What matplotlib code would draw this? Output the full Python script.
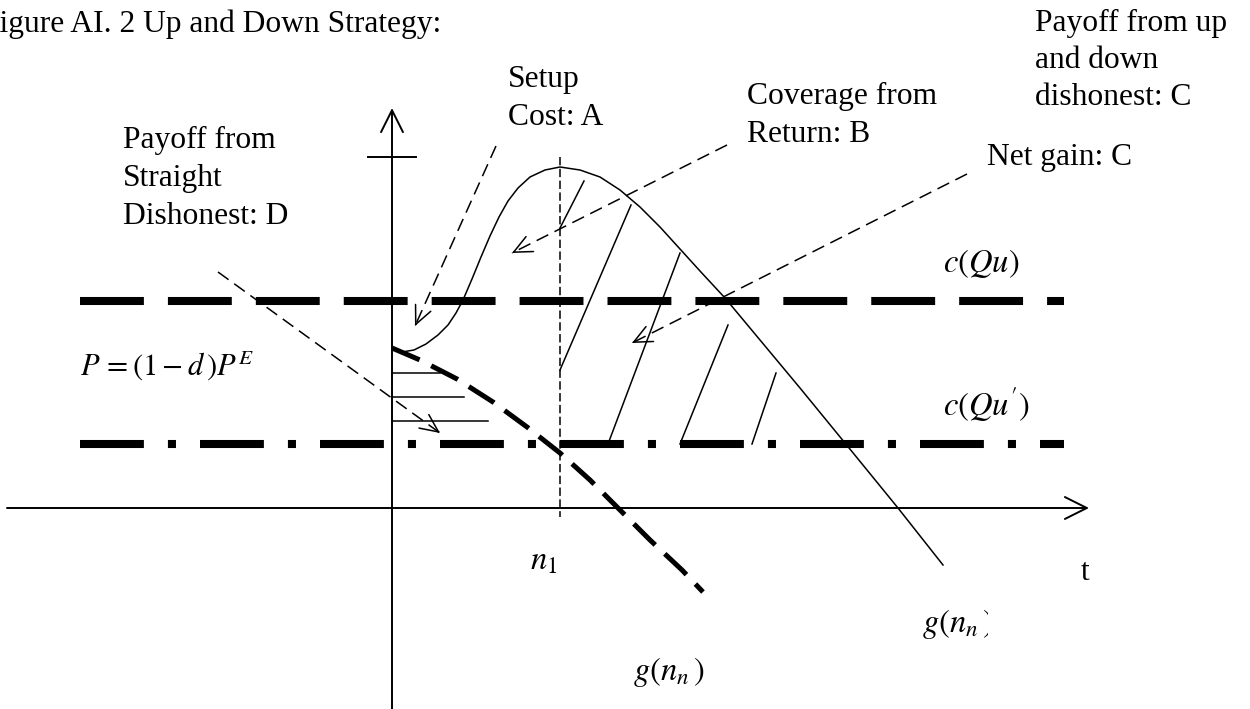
import matplotlib.pyplot as plt
import numpy as np
from matplotlib.transforms import Bbox, TransformedBbox

plt.rcParams["font.family"] = ["Liberation Serif", "DejaVu Serif"]
plt.rcParams["mathtext.fontset"] = "stix"
plt.rcParams["lines.scale_dashes"] = False

# diagram units: origin where the two axes cross, y up
up_down_x = [0, 10, 22, 34, 46, 56, 64, 71, 80, 89, 98, 107, 116, 126, 138, 153, 168,
             188, 208, 228, 248, 268, 288, 308, 333, 368, 408, 453, 506, 551]
up_down_y = [159, 156, 158, 164, 173, 183, 195, 208, 229, 251, 272, 291, 307, 320, 331,
             338, 341, 338, 331, 318, 301, 281, 259, 237, 210, 168, 120, 65, 0, -57]

straight_x = [0, 28, 65, 101, 135, 168, 198, 228, 258, 290, 311]
straight_y = [160, 148, 129, 106, 81, 55, 28, -2, -32, -62, -84]

cqu_y = 207        # c(Qu)
cqu2_y = 64        # c(Qu')
level_x = [-312, 672]
n1_x = 168
n1_top = 351

setup_y = [135, 111, 87]
setup_end = [48, 72, 96]

gain_lines = [((168, 280), (192, 327)),
              ((168, 138), (239, 303)),
              ((216, 64), (288, 255)),
              ((288, 64), (336, 183)),
              ((360, 64), (384, 135))]

# label pointers: start -> tip
pointers = {
    "A": ((104, 362), (23, 182)),
    "B": ((335, 363), (120, 255)),
    "C": ((575, 334), (240, 165)),
    "D": ((-174, 236), (48, 75)),
}

fig = plt.figure(figsize=(12.5, 7.09), dpi=100)
ax = fig.add_axes([0, 0, 1, 1])
ax.set_xlim(-392, 858)
ax.set_ylim(-201, 508)
ax.axis("off")

axis_arrow = dict(arrowstyle="->,head_length=1.58,head_width=0.79", lw=1.4,
                  color="k", shrinkA=0, shrinkB=0)
ax.annotate("", xy=(697, 0), xytext=(-385, 0), arrowprops=axis_arrow)
ax.annotate("", xy=(0, 400), xytext=(0, -205), arrowprops=axis_arrow)
ax.plot([-24, 24], [n1_top, n1_top], color="k", lw=1.4)

# c(Qu) and c(Qu') levels
ax.plot(level_x, [cqu_y, cqu_y], color="k", lw=5.8, dashes=(46, 17.3),
        solid_capstyle="butt", dash_capstyle="butt")
ax.plot(level_x, [cqu2_y, cqu2_y], color="k", lw=5.8, dashes=(46, 17.3, 5.8, 17.3),
        solid_capstyle="butt", dash_capstyle="butt")

ax.plot([n1_x, n1_x], [n1_top, -9], color="k", lw=1.1, dashes=(6, 2.5))

ax.plot(up_down_x, up_down_y, color="k", lw=1.1)
ax.plot(straight_x, straight_y, color="k", lw=3.6, dashes=(21.6, 9.4),
        dash_capstyle="butt")

for y, x1 in zip(setup_y, setup_end):
    ax.plot([0, x1], [y, y], color="k", lw=1.1)
for (x0, y0), (x1, y1) in gain_lines:
    ax.plot([x0, x1], [y0, y1], color="k", lw=1.1)

for (x0, y0), (x1, y1) in pointers.values():
    ax.plot([x0, x1], [y0, y1], color="k", lw=1.1, dashes=(9.4, 5))
    d = np.hypot(x1 - x0, y1 - y0)
    back = (x1 - 2 * (x1 - x0) / d, y1 - 2 * (y1 - y0) / d)
    ax.annotate("", xy=(x1, y1), xytext=back,
                arrowprops=dict(arrowstyle="->,head_length=1.3,head_width=0.6",
                                lw=1.1, color="k", shrinkA=0, shrinkB=0))

# multi-line labels: y is the baseline of the last line
fs = 22.7
txt = dict(fontsize=fs, ha="left", va="baseline", linespacing=1.42)
ax.text(-409.5, 476, "Figure AI. 2 Up and Down Strategy:", **txt)
ax.text(-269, 284, "Payoff from\nStraight\nDishonest: D", **txt)
ax.text(116, 383, "Setup\nCost: A", **txt)
ax.text(355, 366, "Coverage from\nReturn: B", **txt)
ax.text(643, 403, "Payoff from up\nand down\ndishonest: C", fontsize=fs,
        ha="left", va="baseline", linespacing=1.36)
ax.text(595, 343, "Net gain: C", **txt)
ax.text(689, -72, "t", **txt)

mtxt = dict(fontsize=23.5, ha="left", va="baseline")
ax.text(551, 236, r"$c(Qu)$", **mtxt)
ax.text(551, 93, r"$c(Qu')$", **mtxt)
ax.text(-312, 132, r"$P\,=(1-d\,)P^{E}$", fontsize=22, ha="left", va="baseline")
ax.text(138, -62, r"$n_1$", **mtxt)
ax.text(241, -172, r"$g(n_n\,)$", **mtxt)
# right-hand label is cut off through its closing bracket in the original
t = ax.text(530, -124, r"$g(n_n\,)$", clip_on=True, **mtxt)
t.set_clip_box(TransformedBbox(Bbox([[500, -200], [596, -90]]), ax.transData))

fig.savefig("out.png", dpi=100)
